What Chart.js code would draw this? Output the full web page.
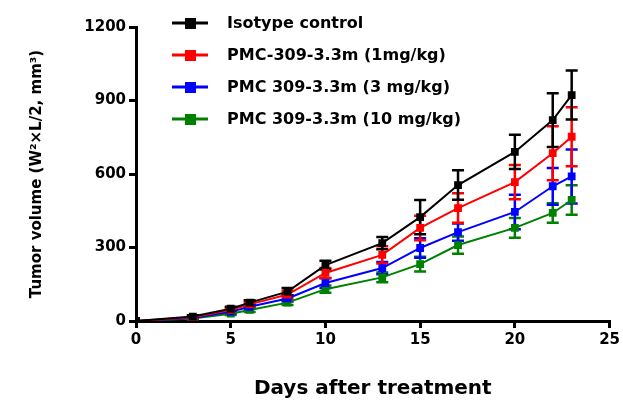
<!DOCTYPE html>
<html>
<head>
<meta charset="utf-8">
<script src="https://cdn.jsdelivr.net/npm/chart.js@4.4.0/dist/chart.umd.min.js"></script>
<style>
  html, body { margin: 0; padding: 0; background: #fff; }
  #wrap { width: 623px; height: 405px; position: relative; }
</style>
</head>
<body>
<div id="wrap"><canvas id="chart"></canvas></div>
<script>
// days after treatment
const days = [0, 3, 5, 6, 8, 10, 13, 15, 17, 20, 22, 23];

const seriesNames = [
  "Isotype control",
  "PMC-309-3.3m (1mg/kg)",
  "PMC 309-3.3m (3 mg/kg)",
  "PMC 309-3.3m (10 mg/kg)"
];
const seriesColors = ["#000000", "#ff0000", "#0000ff", "#008000"];

// mean tumor volume
const isotypeMean = [0, 18, 50, 75, 120, 228, 318, 424, 555, 690, 820, 922];
const dose1Mean   = [0, 15, 45, 68, 108, 196, 270, 380, 461, 567, 685, 752];
const dose3Mean   = [0, 12, 38, 58, 92, 155, 216, 298, 363, 445, 550, 590];
const dose10Mean  = [0, 10, 30, 45, 75, 130, 178, 232, 310, 380, 441, 494];

// SEM
const isotypeErr = [0, 5, 8, 10, 15, 18, 25, 70, 60, 70, 110, 100];
const dose1Err   = [0, 5, 8, 10, 15, 20, 35, 50, 60, 70, 110, 120];
const dose3Err   = [0, 4, 6, 8, 12, 20, 25, 40, 35, 70, 75, 110];
const dose10Err  = [0, 4, 6, 8, 10, 15, 20, 30, 35, 40, 40, 60];

const xTicks = [0, 5, 10, 15, 20, 25];
const yTicks = [0, 300, 600, 900, 1200];

const means = [isotypeMean, dose1Mean, dose3Mean, dose10Mean];
const errs = [isotypeErr, dose1Err, dose3Err, dose10Err];

const FONT = "'DejaVu Sans', Verdana, sans-serif";

const datasets = means.map((m, i) => ({
  label: seriesNames[i],
  data: days.map((d, j) => ({ x: d, y: m[j] })),
  err: errs[i],
  borderColor: seriesColors[i],
  backgroundColor: seriesColors[i],
  borderWidth: 2,
  pointStyle: "rect",
  pointRadius: 5.5,
  pointBorderWidth: 0,
  tension: 0
}));

// error bars drawn with the chart scales
const errorBars = {
  id: "errorBars",
  beforeDatasetsDraw(chart) {
    const ctx = chart.ctx;
    const xs = chart.scales.x, ys = chart.scales.y;
    for (let i = chart.data.datasets.length - 1; i >= 0; i--) {
      const ds = chart.data.datasets[i];
      ctx.save();
      ctx.strokeStyle = ds.borderColor;
      ctx.lineWidth = 2.5;
      ds.data.forEach((p, j) => {
        const e = ds.err[j];
        if (!e) return;
        const x = xs.getPixelForValue(p.x);
        const yt = ys.getPixelForValue(p.y + e);
        const yb = ys.getPixelForValue(p.y - e);
        ctx.beginPath();
        ctx.moveTo(x, yt); ctx.lineTo(x, yb);
        ctx.moveTo(x - 6, yt); ctx.lineTo(x + 6, yt);
        ctx.moveTo(x - 6, yb); ctx.lineTo(x + 6, yb);
        ctx.stroke();
      });
      ctx.restore();
    }
  }
};

// legend inside plot, top-left
const insideLegend = {
  id: "insideLegend",
  afterDraw(chart) {
    const ctx = chart.ctx;
    ctx.save();
    ctx.font = "bold 16px " + FONT;
    ctx.textBaseline = "middle";
    seriesNames.forEach((name, i) => {
      const y = 23 + i * 32;
      ctx.strokeStyle = seriesColors[i];
      ctx.fillStyle = seriesColors[i];
      ctx.lineWidth = 3;
      ctx.beginPath();
      ctx.moveTo(172, y); ctx.lineTo(208, y);
      ctx.stroke();
      ctx.fillRect(185, y - 5, 11, 11);
      ctx.fillStyle = "#000";
      ctx.fillText(name, 227, y + 1);
    });
    ctx.restore();
  }
};

const tickFont = { family: FONT, size: 15, weight: "bold" };

new Chart(document.getElementById("chart"), {
  type: "line",
  data: { datasets },
  options: {
    responsive: true,
    maintainAspectRatio: false,
    animation: false,
    layout: { padding: { top: 27, right: 6, left: 0, bottom: 0 } },
    plugins: { legend: { display: false }, tooltip: { enabled: false } },
    scales: {
      x: {
        type: "linear",
        min: 0, max: 25,
        afterBuildTicks: (s) => { s.ticks = xTicks.map(v => ({ value: v })); },
        afterFit: (s) => { s.height = 84; },
        border: { color: "#000", width: 3 },
        grid: { drawOnChartArea: false, drawTicks: true, tickLength: 7, color: "#000", lineWidth: 3 },
        ticks: { color: "#000", font: tickFont, padding: 3 },
        title: {
          display: true, text: "Days after treatment", color: "#000",
          font: { family: FONT, size: 20, weight: "bold" },
          padding: { top: 20, bottom: 4 }
        }
      },
      y: {
        type: "linear",
        min: 0, max: 1200,
        afterBuildTicks: (s) => { s.ticks = yTicks.map(v => ({ value: v })); },
        afterFit: (s) => { s.width = 136; },
        border: { color: "#000", width: 3 },
        grid: { drawOnChartArea: false, drawTicks: true, tickLength: 7, color: "#000", lineWidth: 3 },
        ticks: { color: "#000", font: tickFont, padding: 3, callback: (v) => String(v) },
        title: {
          display: true, text: "Tumor volume (W\u00b2\u00d7L/2, mm\u00b3)", color: "#000",
          font: { family: FONT, size: 15, weight: "bold" },
          padding: { top: 28, bottom: 0 }
        }
      }
    }
  },
  plugins: [errorBars, insideLegend]
});
</script>
</body>
</html>
